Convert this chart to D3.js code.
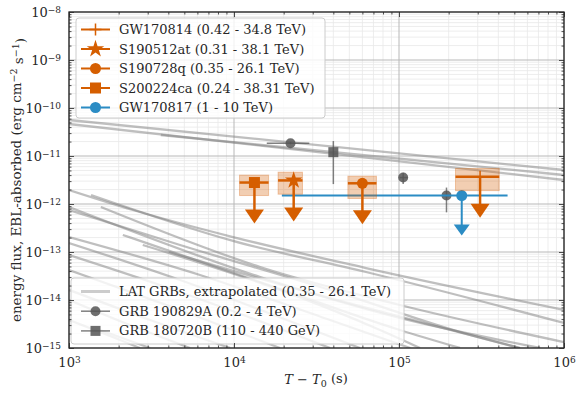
<!DOCTYPE html>
<html lang="en">
<head>
<meta charset="UTF-8">
<title>GW follow-up flux limits</title>
<style>
  body { margin: 0; background: #fff; }
  text { font-family: "DejaVu Serif", serif; fill: #262626; }
  .tick text { font-size: 13px; }
  .legend text { font-size: 13px; }
</style>
</head>
<body>
<svg width="582" height="394"></svg>
<script src="https://d3js.org/d3.v7.min.js"></script>
<script>
// GW events, energy-flux upper limits
let gwLabels = ["GW170814 (0.42 - 34.8 TeV)", "S190512at (0.31 - 38.1 TeV)",
                "S190728q (0.35 - 26.1 TeV)", "S200224ca (0.24 - 38.31 TeV)"];
let gwMarkers = ["plus", "star", "circle", "square"];
let gwTime = [3.1e5, 2.3e4, 6.0e4, 1.33e4];
let gwTimeLo = [2.2e5, 1.85e4, 4.9e4, 1.08e4];
let gwTimeHi = [4.05e5, 2.6e4, 7.3e4, 1.62e4];
let gwFlux = [3.7e-12, 3.1e-12, 2.7e-12, 2.8e-12];
let gwBandLo = [1.9e-12, 1.6e-12, 1.3e-12, 1.5e-12];
let gwBandHi = [5.5e-12, 4.6e-12, 3.8e-12, 4.0e-12];

// GW170817
let bnsLabel = "GW170817 (1 - 10 TeV)";
let bnsTime = 2.4e5, bnsTimeLo = 1.95e4, bnsTimeHi = 4.55e5, bnsFlux = 1.5e-12;

// GRB 190829A detections
let g190Time = [2.2e4, 1.06e5, 1.94e5];
let g190TimeLo = [1.58e4, 1.01e5, 1.83e5];
let g190TimeHi = [2.86e4, 1.13e5, 2.06e5];
let g190Flux = [1.85e-11, 3.55e-12, 1.5e-12];
let g190FluxLo = [1.75e-11, 2.6e-12, 6.7e-13];
let g190FluxHi = [1.95e-11, 4.5e-12, 2.2e-12];

// GRB 180720B detection
let g180Time = [4.0e4];
let g180Flux = [1.2e-11];
let g180FluxLo = [2.6e-12];
let g180FluxHi = [2.05e-11];

// LAT GRBs extrapolated light curves [time (s), flux]
let latCurves = [
  [[1.0e3, 5.62e-11], [1.0e6, 5.11e-12]],
  [[1.0e3, 4.64e-11], [1.0e6, 3.16e-12]],
  [[3.6e3, 2.74e-11], [1.0e6, 4.02e-12]],
  [[1.0e3, 1.96e-12], [2.44e3, 7.5e-13], [9.86e3, 2.05e-13], [6.31e4, 4.64e-14], [1.0e6, 6.19e-15]],
  [[1.36e3, 1.54e-12], [9.86e3, 1.70e-13], [6.31e4, 3.83e-14], [1.0e6, 3.32e-15]],
  [[1.0e3, 8.66e-13], [1.44e4, 3.01e-14], [1.01e5, 4.22e-15], [7.16e5, 1.0e-15]],
  [[1.0e3, 7.5e-13], [4.71e3, 1.40e-13], [3.82e4, 1.62e-14], [2.69e5, 1.87e-15], [5.41e5, 1.0e-15]],
  [[1.56e3, 8.66e-13], [1.44e4, 4.87e-14], [1.01e5, 7.87e-15], [1.0e6, 1.33e-15]],
  [[1.0e3, 2.05e-13], [6.22e3, 3.32e-14], [3.82e4, 3.83e-15], [1.17e5, 1.0e-15]],
  [[1.0e3, 1.54e-13], [4.71e3, 2.61e-14], [2.51e4, 3.01e-15], [5.80e4, 1.0e-15]],
  [[2.12e3, 2.26e-13], [1.44e4, 2.37e-14], [1.01e5, 2.37e-15], [2.34e5, 1.0e-15]],
  [[2.80e3, 1.40e-13], [1.90e4, 1.62e-14], [7.67e4, 2.37e-15], [1.34e5, 1.0e-15]],
  [[4.04e3, 1.0e-13], [2.51e4, 1.62e-14], [2.69e5, 1.87e-15], [5.41e5, 1.0e-15]],
  [[1.0e3, 8.66e-14], [3.56e3, 2.05e-14], [1.65e4, 3.01e-15], [3.82e4, 1.0e-15]],
  [[1.0e3, 4.22e-14], [4.71e3, 6.19e-15], [1.90e4, 1.0e-15]],
  [[1.0e3, 1.62e-14], [3.10e3, 3.83e-15], [9.46e3, 1.0e-15]],
  [[1.0e3, 1.0e-14], [2.34e3, 3.01e-15], [5.41e3, 1.0e-15]],
  [[1.0e3, 3.83e-15], [2.04e3, 1.47e-15], [2.69e3, 1.0e-15]],
  [[1.54e3, 2.37e-15], [3.10e3, 1.0e-15]]
];

let xMajor = [1e3, 1e4, 1e5, 1e6];
let yMajor = [1e-15, 1e-14, 1e-13, 1e-12, 1e-11, 1e-10, 1e-9, 1e-8];

let orange = "#d55e00", blue = "#2b8cc4", gray = "#555555";

let svg = d3.select("svg"),
    mLeft = 69, mRight = 564, mTop = 12, mBottom = 348;

let x = d3.scaleLog().domain([1e3, 1e6]).range([mLeft, mRight]);
let y = d3.scaleLog().domain([1e-15, 1e-8]).range([mBottom, mTop]);

let xMinor = x.ticks().filter(d => xMajor.indexOf(d) < 0);
let yMinor = y.ticks().filter(d => !yMajor.some(m => Math.abs(m - d) / d < 1e-6));

// grid
let grid = svg.append("g");
grid.selectAll(".gx").data(xMinor).enter().append("line")
    .attr("x1", d => x(d)).attr("x2", d => x(d)).attr("y1", mTop).attr("y2", mBottom)
    .attr("stroke", "#e8e8e8").attr("stroke-width", 0.8);
grid.selectAll(".gy").data(yMinor).enter().append("line")
    .attr("y1", d => y(d)).attr("y2", d => y(d)).attr("x1", mLeft).attr("x2", mRight)
    .attr("stroke", "#e8e8e8").attr("stroke-width", 0.8);
grid.selectAll(".gX").data(xMajor).enter().append("line")
    .attr("x1", d => x(d)).attr("x2", d => x(d)).attr("y1", mTop).attr("y2", mBottom)
    .attr("stroke", "#b8b8b8").attr("stroke-width", 1);
grid.selectAll(".gY").data(yMajor).enter().append("line")
    .attr("y1", d => y(d)).attr("y2", d => y(d)).attr("x1", mLeft).attr("x2", mRight)
    .attr("stroke", "#b8b8b8").attr("stroke-width", 1);

svg.append("clipPath").attr("id", "clip").append("rect")
    .attr("x", mLeft).attr("y", mTop).attr("width", mRight - mLeft).attr("height", mBottom - mTop);

let plot = svg.append("g").attr("clip-path", "url(#clip)");

// LAT curves
let line = d3.line().x(d => x(d[0])).y(d => y(d[1])).curve(d3.curveMonotoneX);
plot.selectAll(".lat").data(latCurves).enter().append("path")
    .attr("d", line).attr("fill", "none")
    .attr("stroke", "#808080").attr("stroke-opacity", 0.5).attr("stroke-width", 2.3);

// GRB 190829A
g190Time.forEach((t, i) => {
  plot.append("line").attr("x1", x(g190TimeLo[i])).attr("x2", x(g190TimeHi[i]))
      .attr("y1", y(g190Flux[i])).attr("y2", y(g190Flux[i]))
      .attr("stroke", gray).attr("stroke-opacity", 0.75).attr("stroke-width", 1.5);
  plot.append("line").attr("x1", x(t)).attr("x2", x(t))
      .attr("y1", y(g190FluxLo[i])).attr("y2", y(g190FluxHi[i]))
      .attr("stroke", gray).attr("stroke-opacity", 0.75).attr("stroke-width", 1.5);
  plot.append("circle").attr("cx", x(t)).attr("cy", y(g190Flux[i])).attr("r", 5)
      .attr("fill", gray).attr("fill-opacity", 0.85);
});

// GRB 180720B
g180Time.forEach((t, i) => {
  plot.append("line").attr("x1", x(t)).attr("x2", x(t))
      .attr("y1", y(g180FluxLo[i])).attr("y2", y(g180FluxHi[i]))
      .attr("stroke", gray).attr("stroke-opacity", 0.75).attr("stroke-width", 1.5);
  plot.append("rect").attr("x", x(t) - 5).attr("y", y(g180Flux[i]) - 5)
      .attr("width", 10).attr("height", 10)
      .attr("fill", gray).attr("fill-opacity", 0.85);
});

function marker(g, type, cx, cy, color) {
  if (type === "plus") {
    g.append("path").attr("d", `M${cx - 6},${cy}H${cx + 6}M${cx},${cy - 6}V${cy + 6}`)
        .attr("stroke", color).attr("stroke-width", 1.5);
  } else if (type === "star") {
    g.append("path").attr("d", d3.symbol(d3.symbolStar, 95)())
        .attr("transform", `translate(${cx},${cy})`).attr("fill", color);
  } else if (type === "circle") {
    g.append("circle").attr("cx", cx).attr("cy", cy).attr("r", 5.5).attr("fill", color);
  } else {
    g.append("rect").attr("x", cx - 5.5).attr("y", cy - 5.5)
        .attr("width", 11).attr("height", 11).attr("fill", color);
  }
}

function upperLimit(g, cx, cy, color, len, w, h, lw) {
  g.append("line").attr("x1", cx).attr("x2", cx).attr("y1", cy).attr("y2", cy + len - h + 1)
      .attr("stroke", color).attr("stroke-width", lw);
  g.append("path").attr("d", `M${cx - w / 2},${cy + len - h}L${cx + w / 2},${cy + len - h}L${cx},${cy + len}Z`)
      .attr("fill", color);
}

// GW170817
upperLimit(plot, x(bnsTime), y(bnsFlux), blue, 40, 16, 11, 2);
plot.append("line").attr("x1", x(bnsTimeLo)).attr("x2", x(bnsTimeHi))
    .attr("y1", y(bnsFlux)).attr("y2", y(bnsFlux))
    .attr("stroke", blue).attr("stroke-width", 2);
plot.append("circle").attr("cx", x(bnsTime)).attr("cy", y(bnsFlux)).attr("r", 5.5).attr("fill", blue);

// GW upper limits
gwTime.forEach((t, i) => {
  plot.append("rect").attr("x", x(gwTimeLo[i])).attr("y", y(gwBandHi[i]))
      .attr("width", x(gwTimeHi[i]) - x(gwTimeLo[i]))
      .attr("height", y(gwBandLo[i]) - y(gwBandHi[i]))
      .attr("fill", orange).attr("fill-opacity", 0.3)
      .attr("stroke", orange).attr("stroke-opacity", 0.3);
  let cx = x(t), cy = y(gwFlux[i]);
  plot.append("line").attr("x1", x(gwTimeLo[i])).attr("x2", x(gwTimeHi[i]))
      .attr("y1", cy).attr("y2", cy).attr("stroke", orange).attr("stroke-width", 2.5);
  upperLimit(plot, cx, cy, orange, 41, 19, 14, 2.5);
  marker(plot, gwMarkers[i], cx, cy, orange);
});

// legends
function legendBox(x0, y0, w, h) {
  let g = svg.append("g").attr("class", "legend");
  g.append("rect").attr("x", x0).attr("y", y0).attr("width", w).attr("height", h)
      .attr("rx", 3).attr("fill", "#fff").attr("fill-opacity", 0.8)
      .attr("stroke", "#cccccc").attr("stroke-width", 1);
  return g;
}

let leg1 = legendBox(76, 18, 249, 100);
let gwRows = gwLabels.map((l, i) => ({ label: l, color: orange, marker: gwMarkers[i] }))
    .concat([{ label: bnsLabel, color: blue, marker: "circle" }]);
gwRows.forEach((r, i) => {
  let yy = 29.5 + i * 19.5;
  leg1.append("line").attr("x1", 81).attr("x2", 110).attr("y1", yy).attr("y2", yy)
      .attr("stroke", r.color).attr("stroke-width", 2);
  marker(leg1, r.marker, 95.5, yy, r.color);
  leg1.append("text").attr("x", 119).attr("y", yy).attr("dy", "0.35em").text(r.label);
});

let leg2 = legendBox(71, 278, 333, 66);
let grbRows = ["LAT GRBs, extrapolated (0.35 - 26.1 TeV)", "GRB 190829A (0.2 - 4 TeV)", "GRB 180720B (110 - 440 GeV)"];
grbRows.forEach((l, i) => {
  let yy = 291.5 + i * 19.7;
  if (i === 0) {
    leg2.append("line").attr("x1", 81).attr("x2", 110).attr("y1", yy).attr("y2", yy)
        .attr("stroke", "#808080").attr("stroke-opacity", 0.4).attr("stroke-width", 3);
  } else {
    leg2.append("line").attr("x1", 81).attr("x2", 110).attr("y1", yy).attr("y2", yy)
        .attr("stroke", gray).attr("stroke-opacity", 0.75).attr("stroke-width", 1.5);
    if (i === 1) leg2.append("circle").attr("cx", 95.5).attr("cy", yy).attr("r", 5)
        .attr("fill", gray).attr("fill-opacity", 0.85);
    else leg2.append("rect").attr("x", 90.5).attr("y", yy - 5).attr("width", 10).attr("height", 10)
        .attr("fill", gray).attr("fill-opacity", 0.85);
  }
  leg2.append("text").attr("x", 119).attr("y", yy).attr("dy", "0.35em").text(l);
});

// axes (ticks inward on all sides)
function sup(sel, d) {
  let e = Math.round(Math.log10(d));
  sel.text("10").append("tspan").attr("dy", "-0.45em").attr("font-size", "9px")
      .text(e < 0 ? "\u2212" + (-e) : e);
}

let axB = svg.append("g").attr("transform", `translate(0,${mBottom})`)
    .call(d3.axisBottom(x).tickValues(xMajor).tickSize(-5).tickPadding(10).tickFormat(""));
axB.selectAll(".tick text").each(function (d) { sup(d3.select(this), d); });
svg.append("g").attr("transform", `translate(0,${mBottom})`)
    .call(d3.axisBottom(x).tickValues(xMinor).tickSize(-2.5).tickFormat(""));
svg.append("g").attr("transform", `translate(0,${mTop})`)
    .call(d3.axisTop(x).tickValues(xMajor).tickSize(-5).tickFormat(""));
svg.append("g").attr("transform", `translate(0,${mTop})`)
    .call(d3.axisTop(x).tickValues(xMinor).tickSize(-2.5).tickFormat(""));

let axL = svg.append("g").attr("transform", `translate(${mLeft},0)`)
    .call(d3.axisLeft(y).tickValues(yMajor).tickSize(-5).tickPadding(8).tickFormat(""));
axL.selectAll(".tick text").each(function (d) { sup(d3.select(this), d); });
svg.append("g").attr("transform", `translate(${mLeft},0)`)
    .call(d3.axisLeft(y).tickValues(yMinor).tickSize(-2.5).tickFormat(""));
svg.append("g").attr("transform", `translate(${mRight},0)`)
    .call(d3.axisRight(y).tickValues(yMajor).tickSize(-5).tickFormat(""));
svg.append("g").attr("transform", `translate(${mRight},0)`)
    .call(d3.axisRight(y).tickValues(yMinor).tickSize(-2.5).tickFormat(""));

svg.selectAll(".domain").remove();
svg.selectAll(".tick line").attr("stroke", "#262626").attr("stroke-width", 0.8);
svg.selectAll(".tick text").attr("font-family", "DejaVu Serif").attr("fill", "#262626");

svg.append("rect").attr("x", mLeft).attr("y", mTop).attr("width", mRight - mLeft).attr("height", mBottom - mTop)
    .attr("fill", "none").attr("stroke", "#262626").attr("stroke-width", 1.3);

// axis labels
let xl = svg.append("text").attr("x", 316).attr("y", 384).attr("text-anchor", "middle")
    .style("font-size", "13px");
xl.append("tspan").attr("font-style", "italic").text("T");
xl.append("tspan").text(" \u2212 ");
xl.append("tspan").attr("font-style", "italic").text("T");
xl.append("tspan").attr("dy", "0.3em").attr("font-size", "9.5px").text("0");
xl.append("tspan").attr("dy", "-0.3em").text(" (s)");

let yl = svg.append("text").attr("transform", `translate(21,${(mTop + mBottom) / 2}) rotate(-90)`)
    .attr("text-anchor", "middle").style("font-size", "13.5px");
yl.append("tspan").text("energy flux, EBL-absorbed (erg  cm");
yl.append("tspan").attr("dy", "-0.45em").attr("font-size", "9.5px").text("\u22122");
yl.append("tspan").attr("dy", "0.45em").text(" s");
yl.append("tspan").attr("dy", "-0.45em").attr("font-size", "9.5px").text("\u22121");
yl.append("tspan").attr("dy", "0.45em").text(")");
</script>
</body>
</html>
